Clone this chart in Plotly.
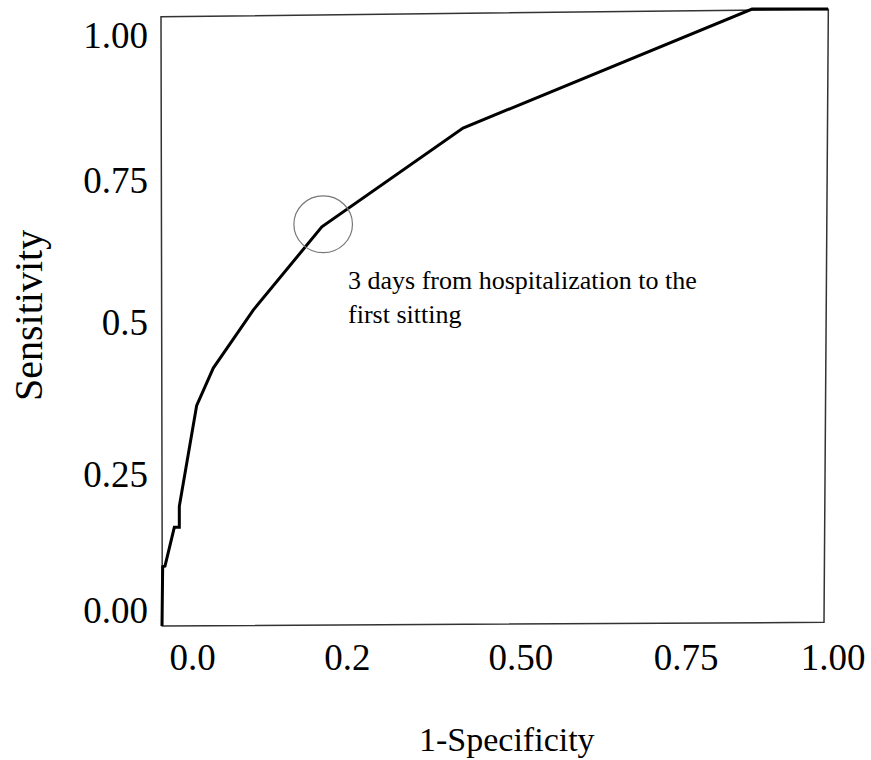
import plotly.graph_objects as go

# ROC curve points (1-Specificity, Sensitivity)
fpr = [0.0, 0.001, 0.0045, 0.0185, 0.026, 0.026, 0.052, 0.077, 0.137, 0.240, 0.452, 0.886, 1.0]
tpr = [0.0, 0.096, 0.097, 0.160, 0.160, 0.194, 0.357, 0.418, 0.512, 0.647, 0.807, 1.0, 1.0]

# Tick labels (as printed on the original figure) and where they sit
x_tick_text = ["0.0", "0.2", "0.50", "0.75", "1.00"]
x_tick_pos = [0.0458, 0.2785, 0.539, 0.787, 1.0075]
y_tick_text = ["0.00", "0.25", "0.5", "0.75", "1.00"]
y_tick_pos = [0.026, 0.246, 0.493, 0.722, 0.958]

# Highlighted cut-off point
cut_x = 0.242
cut_y = 0.651
cut_label = "3 days from hospitalization to the<br>first sitting"

W, H = 871, 760
L, R, T, B = 154, 10, 3, 128
# pixel mapping of the frame: x 0 -> 162 px, 1 -> 828 px ; y 0 -> 626 px, 1 -> 9 px
X0PX, XSPAN = 162.0, 666.0
Y0PX, YSPAN = 626.0, 617.0
xr = [(L - X0PX) / XSPAN, (W - R - X0PX) / XSPAN]
yr = [(Y0PX - (H - B)) / YSPAN, (Y0PX - T) / YSPAN]

FONT = "Times New Roman, Liberation Serif, serif"

fig = go.Figure()
fig.add_trace(go.Scatter(x=fpr, y=tpr, mode="lines",
                         line=dict(color="black", width=3),
                         hoverinfo="skip", showlegend=False))

# skewed frame
fig.add_shape(type="path", xref="x", yref="y",
              path="M -0.0015 0.9875 L 1.0005 0.9995 L 0.994 0.006 L 0.0005 0 Z",
              line=dict(color="#333333", width=1.5), fillcolor="rgba(0,0,0,0)", layer="below")

# circle around cut-off
rx, ry = 0.044, 0.046
fig.add_shape(type="circle", xref="x", yref="y",
              x0=cut_x - rx, x1=cut_x + rx, y0=cut_y - ry, y1=cut_y + ry,
              line=dict(color="#777777", width=1.2))

fig.add_annotation(x=0.276, y=0.533, xref="x", yref="y", text=cut_label,
                   showarrow=False, xanchor="left", yanchor="middle", align="left",
                   font=dict(family=FONT, size=26, color="black"))

pw = W - L - R
ph = H - T - B
fig.add_annotation(x=(28 - L) / pw, y=((H - B) - 316) / ph, xref="paper", yref="paper",
                   text="Sensitivity", textangle=-90, showarrow=False,
                   xanchor="center", yanchor="middle",
                   font=dict(family=FONT, size=40, color="black"))
fig.add_annotation(x=(507 - L) / pw, y=((H - B) - 739) / ph, xref="paper", yref="paper",
                   text="1-Specificity", showarrow=False,
                   xanchor="center", yanchor="middle",
                   font=dict(family=FONT, size=34, color="black"))

fig.update_xaxes(range=xr, tickmode="array", tickvals=x_tick_pos, ticktext=x_tick_text,
                 showgrid=False, zeroline=False, showline=False, ticks="",
                 tickfont=dict(family=FONT, size=37, color="black"), automargin=False)
fig.update_yaxes(range=yr, tickmode="array", tickvals=y_tick_pos, ticktext=y_tick_text,
                 showgrid=False, zeroline=False, showline=False, ticks="",
                 ticklabelstandoff=5,
                 tickfont=dict(family=FONT, size=37, color="black"), automargin=False)

fig.update_layout(width=W, height=H, margin=dict(l=L, r=R, t=T, b=B, pad=0),
                  plot_bgcolor="white", paper_bgcolor="white")

fig.write_html("out.html", config={"displayModeBar": False},
               post_script="document.body.style.margin='0';")
